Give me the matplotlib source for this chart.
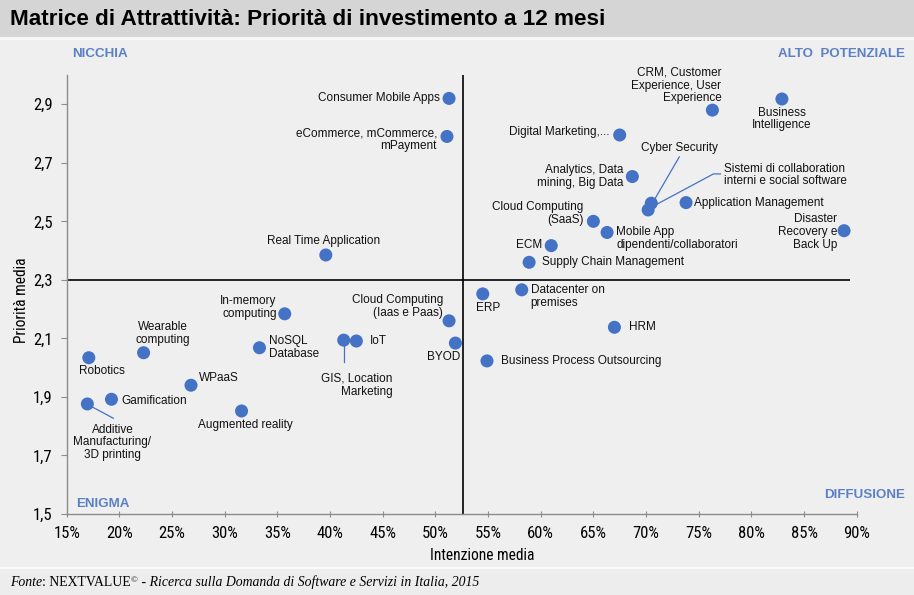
import matplotlib
matplotlib.use("Agg")
import matplotlib.pyplot as plt
from matplotlib import font_manager
from matplotlib.patches import Rectangle
from matplotlib.ticker import FuncFormatter, FixedLocator
import numpy as np

# ---------------- data ----------------
labels = [
    "Consumer Mobile Apps",
    "eCommerce, mCommerce,\nmPayment",
    "Real Time Application",
    "CRM, Customer\nExperience, User\nExperience",
    "Business\nIntelligence",
    "Digital Marketing,...",
    "Analytics, Data\nmining, Big Data",
    "Cyber Security",
    "Sistemi di collaboration\ninterni e social software",
    "Application Management",
    "Cloud Computing\n(SaaS)",
    "Mobile App\ndipendenti/collaboratori",
    "ECM",
    "Supply Chain Management",
    "Disaster\nRecovery e\nBack Up",
    "Datacenter on\npremises",
    "ERP",
    "HRM",
    "Business Process Outsourcing",
    "Cloud Computing\n(Iaas e Paas)",
    "BYOD",
    "IoT",
    "GIS, Location\nMarketing",
    "NoSQL\nDatabase",
    "In-memory\ncomputing",
    "Wearable\ncomputing",
    "Robotics",
    "WPaaS",
    "Gamification",
    "Additive\nManufacturing/\n3D printing",
    "Augmented reality",
]
intenzione = [51.3, 51.1, 39.6, 76.3, 82.9, 67.5, 68.7, 70.5, 70.2, 73.8,
              65.0, 66.3, 61.0, 58.9, 88.8, 58.2, 54.5, 67.0, 54.9, 51.3,
              51.9, 42.5, 41.3, 33.3, 35.7, 22.3, 17.1, 26.8, 19.25, 16.96, 31.6]
priorita = [2.92, 2.79, 2.385, 2.88, 2.918, 2.795, 2.653, 2.562, 2.539, 2.564,
            2.50, 2.462, 2.417, 2.36, 2.468, 2.266, 2.252, 2.138, 2.023, 2.16,
            2.084, 2.091, 2.094, 2.068, 2.184, 2.051, 2.034, 1.94, 1.892, 1.876, 1.852]

x_ticks = [15, 20, 25, 30, 35, 40, 45, 50, 55, 60, 65, 70, 75, 80, 85, 90]
y_ticks = [1.5, 1.7, 1.9, 2.1, 2.3, 2.5, 2.7, 2.9]
x_split = 52.6      # mean intention (vertical divider)
y_split = 2.3       # mean priority (horizontal divider)
quadrants = ["NICCHIA", "ALTO  POTENZIALE", "ENIGMA", "DIFFUSIONE"]

title = "Matrice di Attrattività: Priorità di investimento a 12 mesi"
xlabel = "Intenzione media"
ylabel = "Priorità media"

# ---------------- layout / style ----------------
W, H = 914, 595
DPI = 100
names = {f.name for f in font_manager.fontManager.ttflist}
NARROW = ["Roboto Condensed", "Liberation Sans", "DejaVu Sans"] if "Roboto Condensed" in names \
    else ["Liberation Sans", "DejaVu Sans"]
SANS = ["Liberation Sans", "DejaVu Sans"]
SERIF = ["Liberation Serif", "DejaVu Serif"]
plt.rcParams["font.family"] = SANS

BG = "#EFEFEF"
BLUE = "#4472C4"
QBLUE = "#5B80C6"

# label placement: (dx, dy) in pixels (y up), ha
label_pos = {
    "Consumer Mobile Apps": (-9, 0, "right"),
    "eCommerce, mCommerce,\nmPayment": (-10, -3, "right"),
    "Real Time Application": (-2, 14, "center"),
    "CRM, Customer\nExperience, User\nExperience": (9, 24.5, "right"),
    "Business\nIntelligence": (0, -20, "center"),
    "Digital Marketing,...": (-10, 3, "right"),
    "Analytics, Data\nmining, Big Data": (-9, 0, "right"),
    "Cyber Security": (28, 55, "center"),
    "Sistemi di collaboration\ninterni e social software": (75.5, 35, "left"),
    "Application Management": (8, 0, "left"),
    "Cloud Computing\n(SaaS)": (-10, 8, "right"),
    "Mobile App\ndipendenti/collaboratori": (9, -6, "left"),
    "ECM": (-9, 1, "right"),
    "Supply Chain Management": (13, 0, "left"),
    "Disaster\nRecovery e\nBack Up": (-7, -1.5, "right"),
    "Datacenter on\npremises": (9, -6.5, "left"),
    "ERP": (5, -14, "center"),
    "HRM": (15, 0, "left"),
    "Business Process Outsourcing": (14, 0, "left"),
    "Cloud Computing\n(Iaas e Paas)": (-6, 14, "right"),
    "BYOD": (-12, -13.5, "center"),
    "IoT": (14, 0, "left"),
    "GIS, Location\nMarketing": (49, -45, "right"),
    "NoSQL\nDatabase": (10, 0, "left"),
    "In-memory\ncomputing": (-8, 6, "right"),
    "Wearable\ncomputing": (19, 19, "center"),
    "Robotics": (13, -13, "center"),
    "WPaaS": (8, 7, "left"),
    "Gamification": (10, -2, "left"),
    "Additive\nManufacturing/\n3D printing": (25, -38.5, "center"),
    "Augmented reality": (4, -14, "center"),
}
# leader lines: pixel offsets from the dot (y up)
leaders = {
    "Cyber Security": [(3, 3.3), (28, 46.3)],
    "Sistemi di collaboration\ninterni e social software": [(9.3, 6), (65.3, 36), (72.3, 36)],
    "Additive\nManufacturing/\n3D printing": [(4.4, -2.7), (26, -14.3)],
    "GIS, Location\nMarketing": [(0, -4.7), (0, -21.4)],
}

fig = plt.figure(figsize=(W / DPI, H / DPI), dpi=DPI, facecolor=BG)

# title band
fig.patches.append(Rectangle((0, 1 - 37 / H), 1, 37 / H, transform=fig.transFigure,
                             facecolor="#D5D5D5", edgecolor="none", zorder=0))
fig.patches.append(Rectangle((0, 1 - 39.5 / H), 1, 2.5 / H, transform=fig.transFigure,
                             facecolor="#F8F8F8", edgecolor="none", zorder=0))
# footer separator
fig.patches.append(Rectangle((0, 1 - 569 / H), 1, 2.5 / H, transform=fig.transFigure,
                             facecolor="#FAFAFA", edgecolor="none", zorder=0))
fig.patches.append(Rectangle((0, 0), 1, (H - 569) / H, transform=fig.transFigure,
                             facecolor="#EDEDED", edgecolor="none", zorder=0))

left_px, right_px, top_px, bot_px = 66.7, 856.7, 75, 514
ax = fig.add_axes([left_px / W, 1 - bot_px / H, (right_px - left_px) / W, (bot_px - top_px) / H])
ax.set_facecolor("none")
ax.set_xlim(15, 90)
ax.set_ylim(1.5, 3.0)
for s in ["top", "right"]:
    ax.spines[s].set_visible(False)
for s in ["left", "bottom"]:
    ax.spines[s].set_color("#8C8C8C")
    ax.spines[s].set_linewidth(1.0)

ax.xaxis.set_major_locator(FixedLocator(x_ticks))
ax.yaxis.set_major_locator(FixedLocator(y_ticks))
ax.xaxis.set_major_formatter(FuncFormatter(lambda v, p: f"{v:.0f}%"))
ax.yaxis.set_major_formatter(FuncFormatter(lambda v, p: f"{v:.1f}".replace(".", ",")))
ax.tick_params(axis="x", direction="inout", length=5, width=0.8, color="#8C8C8C",
               pad=6, labelsize=12, labelcolor="black")
ax.tick_params(axis="y", direction="out", length=4, width=0.8, color="#8C8C8C",
               pad=6, labelsize=12, labelcolor="black")
for t in ax.get_xticklabels() + ax.get_yticklabels():
    t.set_fontfamily(NARROW)

# quadrant dividers
ax.axvline(x_split, color="black", lw=1.2, zorder=1)
ax.plot([15, 89.4], [y_split, y_split], color="black", lw=1.2, zorder=1, solid_capstyle="butt")

# points
ax.scatter(intenzione, priorita, s=88, color=BLUE, edgecolors="none", zorder=3)

fig.canvas.draw()
to_disp = ax.transData
to_data = ax.transData.inverted()

for lab, xv, yv in zip(labels, intenzione, priorita):
    dx, dy, ha = label_pos[lab]
    ax.annotate(lab, (xv, yv), xytext=(dx, dy), textcoords="offset pixels",
                ha=ha, va="center", multialignment=ha,
                fontsize=8.5, color="#111111", linespacing=1.08, zorder=4,
                fontfamily=SANS)
    if lab in leaders:
        px, py = to_disp.transform((xv, yv))
        pts = np.array([to_data.transform((px + ox, py + oy)) for ox, oy in leaders[lab]])
        ax.plot(pts[:, 0], pts[:, 1], color=BLUE, lw=0.9, zorder=2, clip_on=False)

# quadrant labels
qkw = dict(fontsize=9.6, fontweight="bold", color=QBLUE, va="center", fontfamily=SANS)
fig.text(72 / W, 1 - 53.8 / H, quadrants[0], ha="left", **qkw)
fig.text(905 / W, 1 - 53.8 / H, quadrants[1], ha="right", **qkw)
fig.text(76 / W, 1 - 504 / H, quadrants[2], ha="left", **qkw)
fig.text(905 / W, 1 - 495 / H, quadrants[3], ha="right", **qkw)

# title and axis labels
fig.text(10 / W, 1 - 19.5 / H, title, ha="left", va="center", fontsize=16.2,
         fontweight="bold", fontfamily=SANS, color="black")
fig.text(482.5 / W, 1 - 555 / H, xlabel, ha="center", va="center", fontsize=11.2,
         fontfamily=NARROW)
fig.text(22 / W, 1 - 300 / H, ylabel, ha="center", va="center", fontsize=11.2,
         fontfamily=NARROW, rotation=90)

# footer with mixed styles
renderer = fig.canvas.get_renderer()
pieces = [
    ("Fonte", "italic", 9.95, 0),
    (": NEXTVALUE", "normal", 9.95, 0),
    ("©", "normal", 6.6, 4),
    (" - Ricerca sulla Domanda di Software e Servizi in Italia, 2015", "italic", 9.95, 0),
]
xcur = 10
ybase = H - 586
for txt, style, size, rise in pieces:
    t = fig.text(xcur / W, (ybase + rise) / H, txt, ha="left", va="baseline",
                 fontsize=size, fontstyle=style, fontfamily=SERIF, color="black")
    bb = t.get_window_extent(renderer=renderer)
    xcur += bb.width

fig.savefig("out.png", dpi=DPI, facecolor=BG)
